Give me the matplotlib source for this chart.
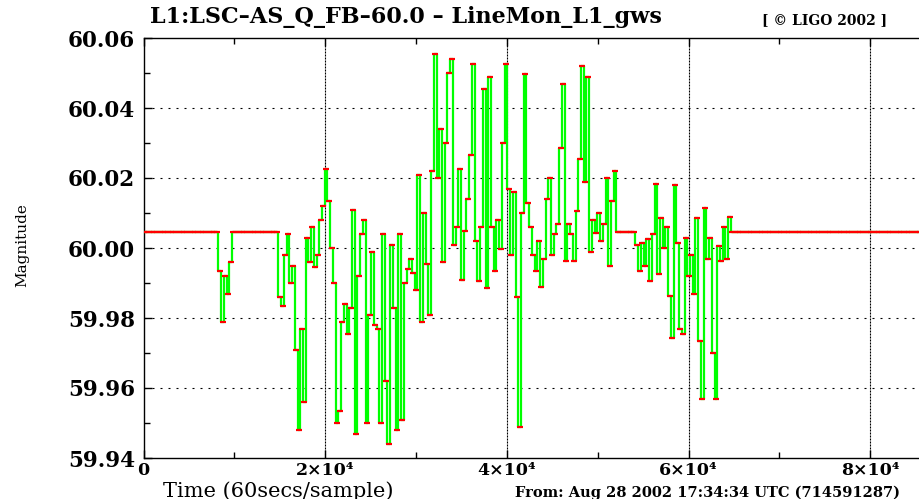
import numpy as np
import matplotlib.pyplot as plt
from matplotlib.path import Path
from matplotlib.ticker import FixedLocator

# one point every 300 s, flat nominal value where the monitor had no data
step = 300
t_end = 86400
nominal = 60.0046

segA_start = 8400
segA = [59.9935, 59.979, 59.992, 59.987, 59.996]

segB_start = 15000
segB = [59.986, 59.9835, 59.998, 60.004, 59.990, 59.995, 59.971, 59.948, 59.977, 59.956,
        60.003, 59.996, 60.006, 59.9945, 59.998, 60.008, 60.012, 60.0227, 60.0135, 60.000,
        59.990, 59.950, 59.9535, 59.979, 59.984, 59.9755, 59.983, 60.011, 59.947, 59.992,
        60.004, 60.008, 59.950, 59.981, 59.999, 59.978, 59.977, 59.950, 60.004, 59.962,
        59.944, 60.001, 59.983, 59.948, 60.004, 59.951, 59.990, 59.994, 59.997, 59.993,
        59.988, 60.021, 59.979, 60.010, 59.9955, 59.981, 60.022, 60.0555, 60.020, 60.034,
        59.996, 60.030, 60.050, 60.054, 60.001, 60.006, 60.0227, 59.991, 60.005, 60.014,
        60.0265, 60.0527, 60.002, 59.9907, 60.006, 60.0455, 59.9887, 60.049, 60.006, 59.9935,
        60.008, 59.9998, 60.030, 60.0527, 60.017, 59.998, 60.016, 59.986, 59.949, 60.010,
        60.0497, 60.013, 60.006, 59.998, 59.9935, 60.002, 59.989, 59.997, 60.014, 60.020,
        59.998, 60.004, 60.007, 60.0287, 60.047, 59.9964, 60.007, 60.004, 59.9964, 60.0107,
        60.0255, 60.052, 60.019, 60.049, 59.999, 60.008, 60.0044, 60.010, 60.002, 60.007,
        60.020, 59.995, 60.0135, 60.022]

segC_start = 54300
segC = [60.001, 59.9935, 60.0015, 59.995, 60.0027, 59.9907, 60.004, 60.0183, 59.9926, 60.0087,
        60.000, 60.006, 59.9864, 59.9744, 60.018, 60.0015, 59.977, 59.9755, 60.003, 59.992,
        59.998, 59.987, 60.0087, 59.9735, 59.957, 60.0115, 59.997, 60.003, 59.970, 59.957,
        60.0007, 59.9964, 60.006, 59.997, 60.009]

xticks = [0, 20000, 40000, 60000, 80000]
xticklabels = ['0', '2×10⁴', '4×10⁴', '6×10⁴', '8×10⁴']
yticks = [59.94, 59.96, 59.98, 60.00, 60.02, 60.04, 60.06]

t = np.arange(0, t_end + step, step)
mag = np.full(len(t), nominal)
for start, vals in [(segA_start, segA), (segB_start, segB), (segC_start, segC)]:
    i0 = start // step
    mag[i0:i0 + len(vals)] = vals

# flat little cross, wider than tall, like the original point markers
flat_plus = Path([(-1, 0), (1, 0), (0, -0.45), (0, 0.45)],
                 [Path.MOVETO, Path.LINETO, Path.MOVETO, Path.LINETO])

W, H = 919, 499
fig = plt.figure(figsize=(W / 100, H / 100), dpi=100)
# axes run a little past the right edge, like the cropped original
ax = fig.add_axes([143.5 / W, (H - 458) / H, 785 / W, 420 / H])

ax.plot(t, mag, color='#00ff00', lw=1.6, drawstyle='steps-mid', zorder=3)
ax.plot(t, mag, ls='none', marker=flat_plus, ms=4.5, mew=1.6, color='red', zorder=4)

ax.set_xlim(0, t_end)
ax.set_ylim(59.94, 60.06)

for x in xticks[1:]:
    ax.axvline(x, color='black', lw=0.8, ls=(0, (1.8, 0.9)), zorder=1)
for y in yticks[1:-1]:
    ax.axhline(y, color='black', lw=0.8, ls=(0, (1.8, 5.4)), zorder=1)

ax.set_xticks(xticks)
ax.set_xticklabels(xticklabels)
ax.set_yticks(yticks)
ax.set_yticklabels([f'{v:.2f}' for v in yticks])
ax.xaxis.set_minor_locator(FixedLocator([10000, 30000, 50000, 70000]))
ax.yaxis.set_minor_locator(FixedLocator([59.95, 59.97, 59.99, 60.01, 60.03, 60.05]))
ax.tick_params(which='both', direction='in', top=True, right=True, width=1)
ax.tick_params(which='major', length=6)
ax.tick_params(which='minor', length=4)
ax.tick_params(axis='y', pad=6)
ax.tick_params(axis='x', pad=3)
for lab in ax.get_yticklabels():
    lab.set_family('DejaVu Serif')
    lab.set_weight('bold')
    lab.set_size(15.5)
for lab in ax.get_xticklabels():
    lab.set_family('DejaVu Serif')
    lab.set_weight('bold')
    lab.set_size(12.5)
for s in ax.spines.values():
    s.set_linewidth(1.0)

fig.text(150 / W, 1 - 17 / H, 'L1:LSC–AS_Q_FB–60.0 – LineMon_L1_gws',
         ha='left', va='center', family='DejaVu Serif', weight='bold', size=16)
fig.text(762 / W, 1 - 20 / H, '[ © LIGO 2002 ]', ha='left', va='center',
         family='DejaVu Serif', weight='bold', size=10)
fig.text(22 / W, 1 - 245 / H, 'Magnitude', rotation=90, ha='center', va='center',
         family='DejaVu Serif', size=11)
fig.text(163 / W, 1 - 491 / H, 'Time (60secs/sample)', ha='left', va='center',
         family='DejaVu Serif', size=15)
fig.text(515 / W, 1 - 493 / H, 'From: Aug 28 2002 17:34:34 UTC (714591287)',
         ha='left', va='center', family='DejaVu Serif', weight='bold', size=10.5)

fig.savefig('out.png', dpi=100)
